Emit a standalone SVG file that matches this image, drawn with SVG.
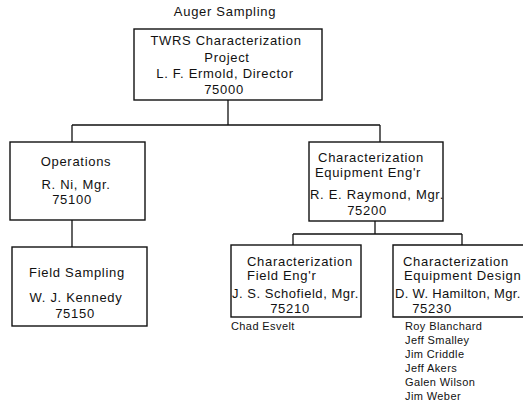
<svg xmlns="http://www.w3.org/2000/svg" width="523" height="414" viewBox="0 0 523 414">
<style>
text{font-family:"Liberation Sans",Arial,sans-serif;font-size:13px;fill:#111;letter-spacing:0.7px}
.c{text-anchor:middle}
.s{font-size:11px;letter-spacing:0.4px}
.box{fill:none;stroke:#111;stroke-width:1.4}
.ln{fill:none;stroke:#111;stroke-width:1.3}
</style>
<rect width="523" height="414" fill="#fff"/>
<text class="c" x="225" y="16">Auger Sampling</text>
<g id="connectors">
<path class="ln" d="M228,100 V125 M72,125 H380 M72,125 V142 M380,125 V142 M72,220 V247 M375,221 V234 M293,234 H462 M293,234 V245 M462,234 V245"/>
</g>
<g id="n75000">
<rect class="box" x="134" y="29" width="188" height="71"/>
<text class="c" x="226" y="45">TWRS Characterization</text>
<text class="c" x="227" y="62">Project</text>
<text class="c" x="225" y="78">L. F. Ermold, Director</text>
<text class="c" x="224" y="94">75000</text>
</g>
<g id="n75100">
<rect class="box" x="10" y="142" width="135" height="78"/>
<text class="c" x="76" y="166">Operations</text>
<text class="c" x="76" y="189">R. Ni, Mgr.</text>
<text class="c" x="72" y="204">75100</text>
</g>
<g id="n75150">
<rect class="box" x="12" y="247" width="135" height="79"/>
<text class="c" x="77" y="277">Field Sampling</text>
<text class="c" x="76" y="302">W. J. Kennedy</text>
<text class="c" x="75" y="318">75150</text>
</g>
<g id="n75200">
<rect class="box" x="309" y="142" width="134" height="79"/>
<text class="c" x="371" y="162">Characterization</text>
<text class="c" x="368" y="177">Equipment Eng'r</text>
<text class="c" x="377" y="199">R. E. Raymond, Mgr.</text>
<text class="c" x="367" y="215">75200</text>
</g>
<g id="n75210">
<rect class="box" x="231" y="245" width="130" height="72"/>
<text x="247" y="266">Characterization</text>
<text x="247" y="280">Field Eng'r</text>
<text x="232" y="298" textLength="127" lengthAdjust="spacing">J. S. Schofield, Mgr.</text>
<text class="c" x="290" y="313">75210</text>
<text class="s" x="231" y="330">Chad Esvelt</text>
</g>
<g id="n75230">
<path class="box" d="M524,245 H393 V317 H524"/>
<text x="403" y="266">Characterization</text>
<text x="404" y="280">Equipment Design</text>
<text x="395" y="298" textLength="126" lengthAdjust="spacing">D. W. Hamilton, Mgr.</text>
<text class="c" x="432" y="313">75230</text>
<text class="s" x="405" y="330">Roy Blanchard</text>
<text class="s" x="405" y="344">Jeff Smalley</text>
<text class="s" x="405" y="358">Jim Criddle</text>
<text class="s" x="405" y="372">Jeff Akers</text>
<text class="s" x="405" y="386">Galen Wilson</text>
<text class="s" x="405" y="400">Jim Weber</text>
</g>
</svg>
